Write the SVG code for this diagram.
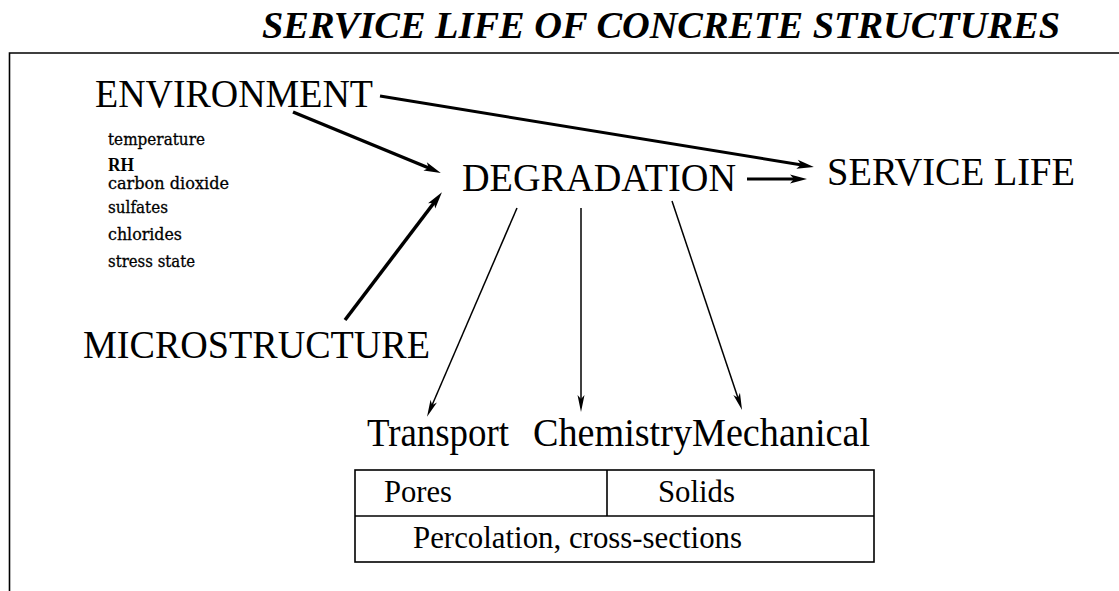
<svg xmlns="http://www.w3.org/2000/svg" width="1119" height="591" viewBox="0 0 1119 591">
  <style>
    .big { font-family: "Liberation Serif", "Times New Roman", serif; font-size: 40px; fill: #000; }
    .title { font-family: "Liberation Serif", "Times New Roman", serif; font-size: 38px; font-weight: bold; font-style: italic; fill: #000; }
    .small { font-family: "DejaVu Serif", "Liberation Serif", serif; font-size: 16px; fill: #000; stroke: #000; stroke-width: 0.3; }
    .rh { font-family: "Liberation Serif", "Times New Roman", serif; font-size: 18px; font-weight: bold; fill: #000; }
    .cell { font-family: "Liberation Serif", "Times New Roman", serif; font-size: 32px; fill: #000; }
    .frame { fill: none; stroke: #000; stroke-width: 1.6; }
    .thick { stroke: #000; stroke-width: 3.5; fill: none; marker-end: url(#headBig); }
    .mid { stroke: #000; stroke-width: 3; fill: none; marker-end: url(#headBig); }
    .thin { stroke: #000; stroke-width: 1.5; fill: none; marker-end: url(#headSmall); }
  </style>
  <defs>
    <marker id="headBig" markerUnits="userSpaceOnUse" viewBox="-10 -6 20 12" markerWidth="20" markerHeight="12" refX="0" refY="0" orient="auto" overflow="visible">
      <path d="M-8,-4.5 L9,0 L-8,4.5 L-4,0 Z" fill="#000"/>
    </marker>
    <marker id="headSmall" markerUnits="userSpaceOnUse" viewBox="-10 -6 20 12" markerWidth="20" markerHeight="12" refX="0" refY="0" orient="auto" overflow="visible">
      <path d="M-9,-3.5 L8,0 L-9,3.5 L-5,0 Z" fill="#000"/>
    </marker>
  </defs>

  <rect width="1119" height="591" fill="#fff"/>

  <g id="title">
    <text class="title" x="262" y="38" textLength="798" lengthAdjust="spacingAndGlyphs">SERVICE LIFE OF CONCRETE STRUCTURES</text>
  </g>

  <g id="frame">
    <polyline class="frame" points="1119,53 9.5,53 9.5,591"/>
  </g>

  <g id="environment">
    <text class="big" x="95" y="107" textLength="278" lengthAdjust="spacingAndGlyphs">ENVIRONMENT</text>
    <text class="small" x="108" y="145" textLength="97" lengthAdjust="spacingAndGlyphs">temperature</text>
    <text class="rh" x="108" y="171" textLength="26" lengthAdjust="spacingAndGlyphs">RH</text>
    <text class="small" x="108" y="189" textLength="121" lengthAdjust="spacingAndGlyphs">carbon dioxide</text>
    <text class="small" x="108" y="213" textLength="60" lengthAdjust="spacingAndGlyphs">sulfates</text>
    <text class="small" x="108" y="240" textLength="74" lengthAdjust="spacingAndGlyphs">chlorides</text>
    <text class="small" x="108" y="267" textLength="87" lengthAdjust="spacingAndGlyphs">stress state</text>
  </g>

  <g id="degradation">
    <text class="big" x="462" y="191" textLength="274" lengthAdjust="spacingAndGlyphs">DEGRADATION</text>
  </g>

  <g id="service-life">
    <text class="big" x="827" y="185" textLength="248" lengthAdjust="spacingAndGlyphs">SERVICE LIFE</text>
  </g>

  <g id="microstructure">
    <text class="big" x="83" y="358" textLength="347" lengthAdjust="spacingAndGlyphs">MICROSTRUCTURE</text>
  </g>

  <g id="transport">
    <text class="big" x="367" y="446" textLength="142" lengthAdjust="spacingAndGlyphs">Transport</text>
  </g>
  <g id="chemistry">
    <text class="big" x="533" y="446" textLength="159" lengthAdjust="spacingAndGlyphs">Chemistry</text>
  </g>
  <g id="mechanical">
    <text class="big" x="692" y="446" textLength="178" lengthAdjust="spacingAndGlyphs">Mechanical</text>
  </g>

  <g id="table">
    <rect class="frame" x="355" y="470" width="519" height="92"/>
    <line class="frame" x1="355" y1="516" x2="874" y2="516"/>
    <line class="frame" x1="607" y1="470" x2="607" y2="516"/>
    <text class="cell" x="384" y="502" textLength="68" lengthAdjust="spacingAndGlyphs">Pores</text>
    <text class="cell" x="658" y="502" textLength="77" lengthAdjust="spacingAndGlyphs">Solids</text>
    <text class="cell" x="413" y="548" textLength="329" lengthAdjust="spacingAndGlyphs">Percolation, cross-sections</text>
  </g>

  <g id="connectors">
    <line class="mid" x1="380" y1="96" x2="805" y2="165.5"/>
    <line class="thick" x1="293" y1="112" x2="432.5" y2="169.5"/>
    <line class="thick" x1="345" y1="320" x2="436.5" y2="199.5"/>
    <line class="mid" x1="747" y1="179" x2="798" y2="179"/>
    <line class="thin" x1="517" y1="208" x2="430.2" y2="409.5"/>
    <line class="thin" x1="581" y1="208" x2="581" y2="404"/>
    <line class="thin" x1="672" y1="201" x2="739.5" y2="402.5"/>
  </g>
</svg>
